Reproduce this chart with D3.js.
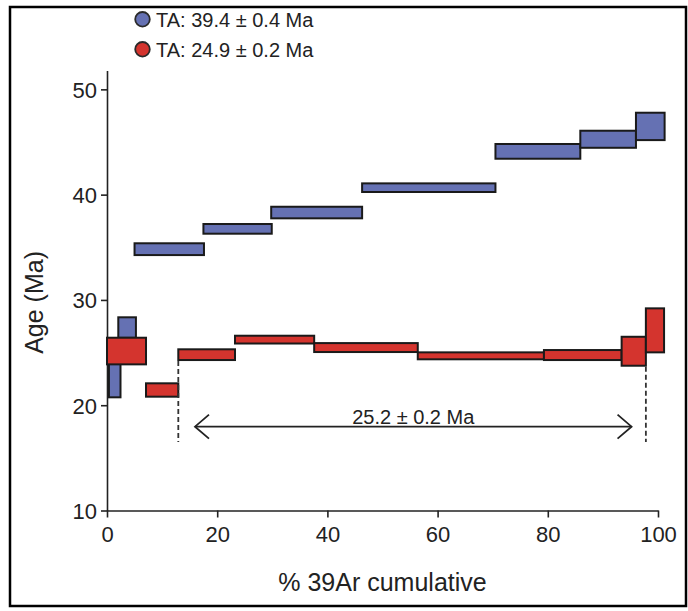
<!DOCTYPE html>
<html>
<head>
<meta charset="utf-8">
<script src="https://cdn.jsdelivr.net/npm/d3@7/dist/d3.min.js"></script>
<style>
  html, body { margin: 0; padding: 0; background: #fff; }
  svg { display: block; }
  text { font-family: "Liberation Sans", Arial, sans-serif; fill: #222; }
</style>
</head>
<body>
<svg id="chart" width="688" height="611"></svg>
<script>
// ---- data ----
const blueX0 = [0.35, 2.05, 5.0, 17.5, 29.8, 46.3, 70.5, 85.9, 96.0];
const blueX1 = [2.45, 5.25, 17.6, 29.9, 46.3, 70.5, 85.9, 96.0, 101.2];
const blueLo = [20.75, 26.4, 34.26, 36.29, 37.75, 40.25, 43.41, 44.45, 45.18];
const blueHi = [24.5, 28.35, 35.38, 37.21, 38.85, 41.07, 44.81, 46.07, 47.78];

const redX0 = [0, 7.08, 12.94, 23.23, 37.6, 56.4, 79.3, 93.4, 97.8];
const redX1 = [7.08, 12.94, 23.23, 37.6, 56.4, 79.3, 93.4, 97.8, 101.1];
const redLo = [23.88, 20.81, 24.29, 25.86, 25.05, 24.36, 24.29, 23.75, 25.02];
const redHi = [26.41, 22.08, 25.31, 26.6, 25.9, 25.02, 25.24, 26.5, 29.2];

const legendLabels = ["TA: 39.4 \u00B1 0.4 Ma", "TA: 24.9 \u00B1 0.2 Ma"];
const plateauLabel = "25.2 \u00B1 0.2 Ma";
const plateauStart = 12.94, plateauEnd = 97.8;
const plateauDashLow = [24.29, 23.75];   // ages where dashed lines start (bottom of step)
const dashBottom = 16.5;
const arrowAge = 17.96, arrowFrom = 15.97, arrowTo = 95.2;
const plateauLabelAge = 19.0;

const xTicks = [0, 20, 40, 60, 80, 100];
const yTicks = [10, 20, 30, 40, 50];
const xTitle = "% 39Ar cumulative";
const yTitle = "Age (Ma)";

// ---- layout ----
const svg = d3.select("#chart");
const x = d3.scaleLinear().domain([0, 100]).range([107, 658]);
const y = d3.scaleLinear().domain([10, 51.8]).range([510.5, 70.4]);

const blueFill = "#6571b3", redFill = "#d4342e", stroke = "#1a1a1a";

// frame
svg.append("rect").attr("x", 10).attr("y", 7).attr("width", 676).attr("height", 599)
  .attr("fill", "none").attr("stroke", "#000").attr("stroke-width", 2.5);

// axes
const yAxis = d3.axisLeft(y).tickValues(yTicks).tickSize(6).tickSizeOuter(0).tickPadding(4);
const gy = svg.append("g").attr("transform", `translate(${x(0)},0)`).call(yAxis);
const xAxis = d3.axisBottom(x).tickValues(xTicks).tickSize(7).tickSizeOuter(0).tickPadding(6);
const gx = svg.append("g").attr("transform", `translate(0,${y(10)})`).call(xAxis);
[gx, gy].forEach(g => {
  g.select(".domain").attr("stroke", "#222").attr("stroke-width", 1.6);
  g.selectAll(".tick line").attr("stroke", "#222").attr("stroke-width", 1.6);
  g.selectAll(".tick text").attr("font-size", 22).attr("fill", "#2a2a2a")
    .attr("font-family", "Liberation Sans, Arial, sans-serif");
});
gx.selectAll(".tick text").attr("dy", "0.85em");
gy.selectAll(".tick text").attr("dy", "0.36em");

// titles
svg.append("text").attr("x", (x(0) + x(100)) / 2).attr("y", 591)
  .attr("text-anchor", "middle").attr("font-size", 25).attr("fill", "#2a2a2a").text(xTitle);
svg.append("text").attr("transform", `translate(43,${(y(10) + y(51.8)) / 2 + 12}) rotate(-90)`)
  .attr("text-anchor", "middle").attr("font-size", 25).attr("fill", "#2a2a2a").text(yTitle);

// steps
function drawSteps(x0, x1, lo, hi, fill) {
  const data = x0.map((d, i) => ({ x0: d, x1: x1[i], lo: lo[i], hi: hi[i] }));
  svg.append("g").selectAll("rect").data(data).join("rect")
    .attr("x", d => x(d.x0)).attr("width", d => x(d.x1) - x(d.x0))
    .attr("y", d => y(d.hi)).attr("height", d => y(d.lo) - y(d.hi))
    .attr("fill", fill).attr("stroke", stroke).attr("stroke-width", 2);
}
drawSteps(blueX0, blueX1, blueLo, blueHi, blueFill);
drawSteps(redX0, redX1, redLo, redHi, redFill);

// plateau dashed limits
[plateauStart, plateauEnd].forEach((p, i) => {
  svg.append("line").attr("x1", x(p)).attr("x2", x(p))
    .attr("y1", y(plateauDashLow[i]) + 1).attr("y2", y(dashBottom))
    .attr("stroke", "#333").attr("stroke-width", 1.8).attr("stroke-dasharray", "5,3");
});

// arrow
const ay = y(arrowAge), ax1 = x(arrowFrom), ax2 = x(arrowTo);
svg.append("line").attr("x1", ax1).attr("x2", ax2).attr("y1", ay).attr("y2", ay)
  .attr("stroke", "#222").attr("stroke-width", 1.8);
svg.append("path").attr("d", `M${ax1 + 14},${ay - 12}L${ax1},${ay}L${ax1 + 14},${ay + 12}`)
  .attr("fill", "none").attr("stroke", "#222").attr("stroke-width", 1.8);
svg.append("path").attr("d", `M${ax2 - 14},${ay - 12}L${ax2},${ay}L${ax2 - 14},${ay + 12}`)
  .attr("fill", "none").attr("stroke", "#222").attr("stroke-width", 1.8);
svg.append("text").attr("x", (ax1 + ax2) / 2).attr("y", y(plateauLabelAge) + 8)
  .attr("text-anchor", "middle").attr("font-size", 20).attr("fill", "#333").text(plateauLabel);

// legend
const legFills = [blueFill, redFill];
legendLabels.forEach((t, i) => {
  const cy = 19.3 + i * 30;
  svg.append("circle").attr("cx", 142.5).attr("cy", cy).attr("r", 7.3)
    .attr("fill", legFills[i]).attr("stroke", "#2a2a2a").attr("stroke-width", 1.8);
  svg.append("text").attr("x", 156).attr("y", cy + 7.5).attr("font-size", 20)
    .attr("fill", "#333").text(t);
});
</script>
</body>
</html>
